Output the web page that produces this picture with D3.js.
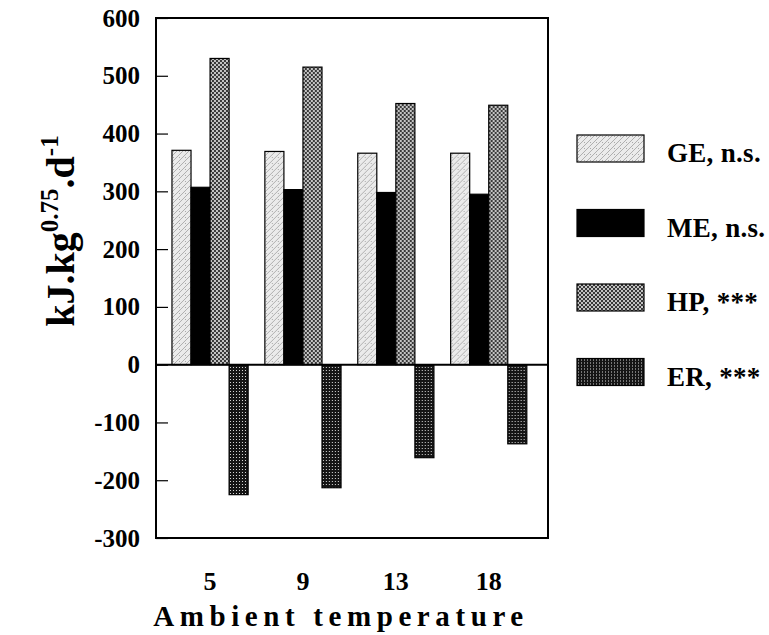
<!DOCTYPE html>
<html>
<head>
<meta charset="utf-8">
<script src="https://cdn.jsdelivr.net/npm/d3@7"></script>
<style>
  body { margin: 0; background: #fff; }
  svg { font-family: "Liberation Serif", "Times New Roman", serif; font-weight: bold; }
</style>
</head>
<body>
<div id="chart"></div>
<script>
// Data
const temps = ["5", "9", "13", "18"];
const seriesKeys = ["GE", "ME", "HP", "ER"];
const seriesLabels = ["GE, n.s.", "ME, n.s.", "HP, ***", "ER, ***"];
const geValues = [371, 369, 366, 366];
const meValues = [307, 303, 298, 295];
const hpValues = [530, 515, 452, 449];
const erValues = [-225, -213, -161, -137];
const yTicks = [-300, -200, -100, 0, 100, 200, 300, 400, 500, 600];

const valuesByKey = { GE: geValues, ME: meValues, HP: hpValues, ER: erValues };

const width = 769, height = 635;
const plot = { left: 156, right: 548, top: 18, bottom: 538 };

const svg = d3.select("#chart").append("svg")
  .attr("width", width)
  .attr("height", height);

// Fill patterns imitating the printed screens
const defs = svg.append("defs");

const pGE = defs.append("pattern").attr("id", "pat-GE")
  .attr("patternUnits", "userSpaceOnUse").attr("width", 6).attr("height", 6);
pGE.append("rect").attr("width", 6).attr("height", 6).attr("fill", "#ebebeb");
pGE.append("path").attr("d", "M0,6 L6,0 M-1,1 L1,-1 M5,7 L7,5")
  .attr("stroke", "#a0a0a0").attr("stroke-width", 0.8);
pGE.append("rect").attr("x", 1).attr("y", 1).attr("width", 1).attr("height", 1).attr("fill", "#aaa");

const pHP = defs.append("pattern").attr("id", "pat-HP")
  .attr("patternUnits", "userSpaceOnUse").attr("width", 4).attr("height", 4);
pHP.append("rect").attr("width", 4).attr("height", 4).attr("fill", "#c4c4c4");
pHP.append("rect").attr("x", 0).attr("y", 0).attr("width", 2).attr("height", 2).attr("fill", "#3a3a3a");
pHP.append("rect").attr("x", 2).attr("y", 2).attr("width", 2).attr("height", 2).attr("fill", "#3a3a3a");

const pER = defs.append("pattern").attr("id", "pat-ER")
  .attr("patternUnits", "userSpaceOnUse").attr("width", 3).attr("height", 3);
pER.append("rect").attr("width", 3).attr("height", 3).attr("fill", "#151515");
pER.append("rect").attr("x", 1).attr("y", 1).attr("width", 1).attr("height", 1).attr("fill", "#d8d8d8");

const fillFor = {
  GE: "url(#pat-GE)",
  ME: "#000",
  HP: "url(#pat-HP)",
  ER: "url(#pat-ER)"
};

// Scales
const x0 = d3.scaleBand()
  .domain(temps)
  .range([plot.left, plot.right])
  .paddingInner(0.18)
  .paddingOuter(0.2)
  .align(0.43);

const x1 = d3.scaleBand()
  .domain(seriesKeys)
  .range([0, x0.bandwidth()]);

const y = d3.scaleLinear()
  .domain([-300, 600])
  .range([plot.bottom, plot.top]);

// Y axis with inward ticks
svg.append("g")
  .attr("transform", `translate(${plot.left},0)`)
  .call(d3.axisLeft(y).tickValues(yTicks).tickSize(-12).tickPadding(16).tickFormat(d => String(d)))
  .call(g => g.select(".domain").remove())
  .call(g => g.selectAll(".tick line").attr("stroke", "#000").attr("stroke-width", 1.2))
  .call(g => g.selectAll(".tick text")
    .attr("font-family", "Liberation Serif, serif")
    .attr("font-weight", "bold")
    .attr("font-size", 25)
    .attr("fill", "#000"));

// Bars
const groups = svg.append("g").selectAll("g")
  .data(temps)
  .join("g")
  .attr("transform", d => `translate(${x0(d)},0)`);

groups.selectAll("rect")
  .data((t, i) => seriesKeys.map(k => ({ key: k, value: valuesByKey[k][i] })))
  .join("rect")
  .attr("x", d => x1(d.key))
  .attr("width", x1.bandwidth())
  .attr("y", d => y(Math.max(0, d.value)))
  .attr("height", d => Math.abs(y(d.value) - y(0)))
  .attr("fill", d => fillFor[d.key])
  .attr("stroke", "#000")
  .attr("stroke-width", 1.2);

// Zero line
svg.append("line")
  .attr("x1", plot.left).attr("x2", plot.right)
  .attr("y1", y(0)).attr("y2", y(0))
  .attr("stroke", "#000").attr("stroke-width", 2);

// Frame
svg.append("rect")
  .attr("x", plot.left).attr("y", plot.top)
  .attr("width", plot.right - plot.left)
  .attr("height", plot.bottom - plot.top)
  .attr("fill", "none")
  .attr("stroke", "#000")
  .attr("stroke-width", 2);

// X tick labels (no tick marks)
svg.append("g").selectAll("text")
  .data(temps)
  .join("text")
  .attr("x", d => x0(d) + x0.bandwidth() / 2)
  .attr("y", 590)
  .attr("text-anchor", "middle")
  .attr("font-size", 26)
  .text(d => d);

// X title
svg.append("text")
  .attr("x", 341)
  .attr("y", 626)
  .attr("text-anchor", "middle")
  .attr("font-size", 29)
  .attr("letter-spacing", 5.6)
  .text("Ambient temperature");

// Y title with superscripts
const yTitle = svg.append("text")
  .attr("transform", "translate(74,231) rotate(-90)")
  .attr("text-anchor", "middle")
  .attr("font-size", 40);
yTitle.append("tspan").text("kJ.kg");
yTitle.append("tspan").attr("font-size", 25).attr("dy", -16).text("0.75");
yTitle.append("tspan").attr("dy", 16).text(".d");
yTitle.append("tspan").attr("font-size", 25).attr("dy", -16).text("-1");

// Legend
const legend = svg.append("g").selectAll("g")
  .data(seriesKeys)
  .join("g")
  .attr("transform", (d, i) => `translate(577,${135 + i * 74.5})`);

legend.append("rect")
  .attr("width", 67)
  .attr("height", 27)
  .attr("fill", d => fillFor[d])
  .attr("stroke", "#000")
  .attr("stroke-width", 1.2);

legend.append("text")
  .attr("x", 90)
  .attr("y", 27)
  .attr("font-size", 27)
  .attr("letter-spacing", 0.3)
  .text((d, i) => seriesLabels[i]);
</script>
</body>
</html>
